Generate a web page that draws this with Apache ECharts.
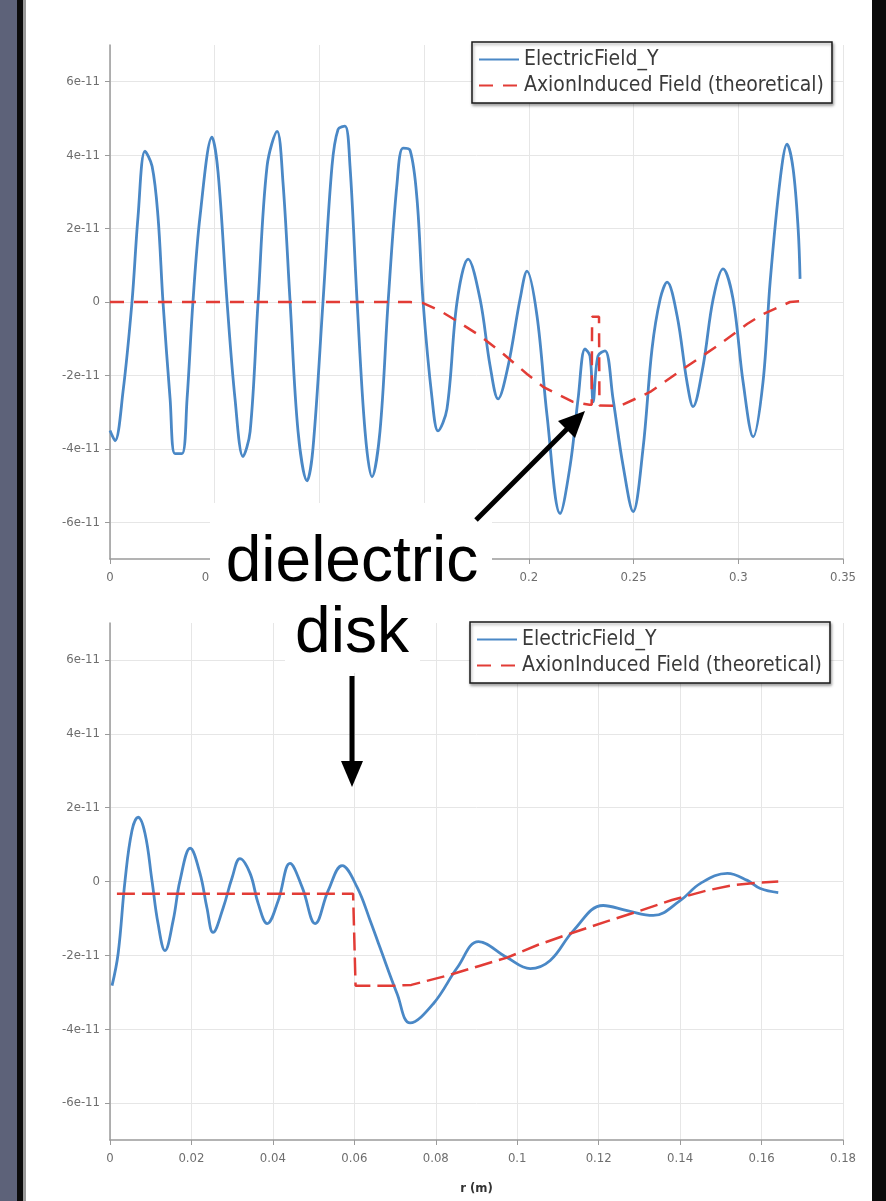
<!DOCTYPE html>
<html>
<head>
<meta charset="utf-8">
<script src="https://cdn.jsdelivr.net/npm/echarts@6/dist/echarts.min.js"></script>
<style>
html,body{margin:0;padding:0;background:#fff;}
#c{width:886px;height:1201px;}
</style>
</head>
<body>
<div id="c"></div>
<script>
// Field values are in units of 1e-11 (axis labels append "e-11")
const UNIT_SUFFIX = 'e-11';

// ---- Top chart: ElectricField_Y vs r ----
const topR = [
  0, 0.0024, 0.0062, 0.0105, 0.0134, 0.0167, 0.0201, 0.0229, 0.0253, 0.0287,
  0.0310, 0.0344, 0.0368, 0.0396, 0.0430, 0.0487, 0.0516, 0.0559, 0.0597, 0.0635,
  0.0669, 0.0707, 0.0750, 0.0798, 0.0826, 0.0860, 0.0898, 0.0941, 0.0969, 0.1017,
  0.1060, 0.1089, 0.1122, 0.1146, 0.1180, 0.1218, 0.1251, 0.1289, 0.1328, 0.1371,
  0.1399, 0.1433, 0.1466, 0.1495, 0.1538, 0.1566, 0.1609, 0.1657, 0.1710, 0.1767,
  0.1815, 0.1853, 0.1901, 0.1958, 0.1991, 0.2039, 0.2087, 0.2149, 0.2197, 0.2235,
  0.2268, 0.2292, 0.2307, 0.2330, 0.2364, 0.2402, 0.2450, 0.2498, 0.2545, 0.2588,
  0.2627, 0.2660, 0.2708, 0.2755, 0.2784, 0.2832, 0.2880, 0.2927, 0.2975, 0.3023,
  0.3071, 0.3118, 0.3152, 0.3200, 0.3233, 0.3262, 0.3286, 0.3295
];
const topField = [
  -3.50, -3.78, -2.45, 0.00, 2.34, 4.11, 3.70, 2.34, 0.00, -2.64,
  -4.13, -4.13, -2.64, 0.00, 2.34, 4.49, 3.53, 0.00, -2.64, -4.21,
  -3.53, 0.00, 3.70, 4.65, 3.26, 0.00, -3.53, -4.87, -4.00, 0.00,
  3.70, 4.70, 4.79, 3.70, 0.00, -3.53, -4.76, -3.53, 0.00, 3.26,
  4.19, 4.13, 2.80, 0.00, -2.64, -3.51, -2.91, 0.00, 1.17, 0.08,
  -1.74, -2.64, -1.74, 0.08, 0.84, -0.38, -3.10, -5.76, -4.46, -2.64,
  -1.28, -1.47, -2.72, -1.47, -1.33, -2.64, -4.46, -5.71, -4.00, -1.28,
  0.08, 0.54, -0.38, -2.18, -2.85, -1.74, 0.08, 0.90, 0.08, -2.18,
  -3.67, -2.18, 0.54, 3.34, 4.30, 3.62, 1.98, 0.63
];
const topTheoryR = [
  0, 0.1433, 0.1495, 0.1576, 0.1657, 0.1767, 0.1877, 0.1991, 0.2068, 0.2211,
  0.2290, 0.2300, 0.2302, 0.2335, 0.2337, 0.2436, 0.2579, 0.2737, 0.2899, 0.3042,
  0.3118, 0.3247, 0.3295
];
const topTheory = [
  0, 0, -0.03, -0.24, -0.52, -0.92, -1.41, -1.96, -2.31, -2.72,
  -2.80, -2.80, -0.40, -0.40, -2.82, -2.83, -2.45, -1.82, -1.20, -0.60,
  -0.33, 0, 0.02
];

// ---- Bottom chart ----
const botR = [
  0.0005, 0.0020, 0.0037, 0.0054, 0.0069, 0.0086, 0.0103, 0.0118, 0.0135, 0.0155,
  0.0172, 0.0197, 0.0221, 0.0238, 0.0253, 0.0278, 0.0300, 0.0319, 0.0344, 0.0364,
  0.0386, 0.0413, 0.0442, 0.0472, 0.0504, 0.0536, 0.0570, 0.0607, 0.0639, 0.0663,
  0.0705, 0.0737, 0.0794, 0.0853, 0.0905, 0.0975, 0.1032, 0.1081, 0.1138, 0.1211,
  0.1270, 0.1334, 0.1400, 0.1450, 0.1516, 0.1565, 0.1597, 0.1641
];
const botField = [
  -2.82, -1.95, 0.03, 1.38, 1.74, 1.30, 0.03, -1.14, -1.87, -1.06,
  0.03, 0.90, 0.22, -0.71, -1.38, -0.71, 0.11, 0.62, 0.22, -0.60,
  -1.14, -0.52, 0.49, -0.16, -1.14, -0.24, 0.43, -0.16, -1.06, -1.79,
  -3.04, -3.83, -3.31, -2.33, -1.63, -2.06, -2.36, -2.14, -1.33, -0.65,
  -0.79, -0.92, -0.52, -0.05, 0.22, 0.03, -0.19, -0.30
];
const botTheoryR = [
  0.0017, 0.0597, 0.0603, 0.0700, 0.0740, 0.0828, 0.0909, 0.0975, 0.1050, 0.1138,
  0.1220, 0.1302, 0.1380, 0.1467, 0.1530, 0.1590, 0.1641
];
const botTheory = [
  -0.33, -0.33, -2.82, -2.82, -2.80, -2.55, -2.28, -2.06, -1.72, -1.38,
  -1.08, -0.79, -0.50, -0.24, -0.10, -0.03, 0
];

const yTickValues = [-6, -4, -2, 0, 2, 4, 6];
const seriesNames = ['ElectricField_Y', 'AxionInduced Field (theoretical)'];
const annotationWords = ['dielectric', 'disk'];

const zip = (xs, ys) => xs.map((x, i) => [x, ys[i]]);
const FONT = '"Liberation Sans Narrow", "DejaVu Sans Condensed", "Liberation Sans", sans-serif';
const BLUE = '#4a88c6';
const RED = '#e23c36';

function yAxis(gi) {
  return {
    type: 'value', gridIndex: gi, min: -7, max: 7, splitNumber: 7,
    axisLine: {show: true, lineStyle: {color: '#9a9a9a', width: 1.5}},
    axisTick: {show: true, length: 5, lineStyle: {color: '#9a9a9a'}, customValues: yTickValues},
    axisLabel: {
      customValues: yTickValues,
      color: '#6e6e6e', fontSize: 13, fontFamily: FONT, margin: 10,
      formatter: v => (v === 0 ? '0' : v + UNIT_SUFFIX)
    },
    splitLine: {show: true, lineStyle: {color: ['#e6e6e6','#e6e6e6','#e6e6e6','#e6e6e6','#e6e6e6','#e6e6e6','#e6e6e6','#e6e6e6','rgba(0,0,0,0)'], width: 1}}
  };
}
function xAxis(gi, max, interval, name) {
  return {
    type: 'value', gridIndex: gi, min: 0, max: max, interval: interval,
    name: name, nameLocation: 'middle', nameGap: 42,
    nameTextStyle: {color: '#333', fontSize: 13, fontFamily: FONT, fontWeight: 'bold'},
    axisLine: {show: true, onZero: false, lineStyle: {color: '#9a9a9a', width: 1.5}},
    axisTick: {show: true, length: 5, lineStyle: {color: '#9a9a9a'}},
    axisLabel: {color: '#6e6e6e', fontSize: 13, fontFamily: FONT, margin: 12},
    splitLine: {show: true, lineStyle: {color: '#e6e6e6', width: 1}}
  };
}
function legend(left, top) {
  return {
    left: left, top: top, orient: 'vertical', data: seriesNames,
    backgroundColor: '#fff', borderColor: '#1a1a1a', borderWidth: 1.5,
    padding: [7, 8, 7, 6], itemGap: 5, itemWidth: 40, itemHeight: 14,
    itemStyle: {opacity: 0},
    textStyle: {fontSize: 21, color: '#3a3a3a', fontFamily: FONT},
    shadowColor: 'rgba(0,0,0,0.35)', shadowBlur: 3, shadowOffsetX: 1, shadowOffsetY: 2
  };
}

const chart = echarts.init(document.getElementById('c'), null, {renderer: 'canvas'});
chart.setOption({
  backgroundColor: '#fff',
  animation: false,
  grid: [
    {left: 110, right: 43, top: 45, height: 514},
    {left: 110, right: 43, top: 623, height: 517}
  ],
  xAxis: [xAxis(0, 0.35, 0.05, ''), xAxis(1, 0.18, 0.02, 'r (m)')],
  yAxis: [yAxis(0), yAxis(1)],
  legend: [legend(472, 42), legend(470, 622)],
  series: [
    {name: seriesNames[0], type: 'line', xAxisIndex: 0, yAxisIndex: 0, data: zip(topR, topField),
     symbol: 'none', smooth: 0.35, lineStyle: {color: BLUE, width: 2.8}, itemStyle: {color: BLUE}},
    {name: seriesNames[1], type: 'line', xAxisIndex: 0, yAxisIndex: 0, data: zip(topTheoryR, topTheory),
     symbol: 'none', lineStyle: {color: RED, width: 2.5, type: [14, 10]}, itemStyle: {color: RED}},
    {name: seriesNames[0], type: 'line', xAxisIndex: 1, yAxisIndex: 1, data: zip(botR, botField),
     symbol: 'none', smooth: 0.4, lineStyle: {color: BLUE, width: 2.8}, itemStyle: {color: BLUE}},
    {name: seriesNames[1], type: 'line', xAxisIndex: 1, yAxisIndex: 1, data: zip(botTheoryR, botTheory),
     symbol: 'none', lineStyle: {color: RED, width: 2.5, type: [18, 7]}, itemStyle: {color: RED}}
  ],
  graphic: [
    {type: 'rect', z: 200, shape: {x: 0, y: 0, width: 17, height: 1201}, style: {fill: '#5d6279'}},
    {type: 'rect', z: 200, shape: {x: 17, y: 0, width: 6, height: 1201}, style: {fill: '#0b0b0b'}},
    {type: 'rect', z: 200, shape: {x: 23, y: 0, width: 3, height: 1201}, style: {fill: '#9a9a9a'}},
    {type: 'rect', z: 200, shape: {x: 872, y: 0, width: 14, height: 1201}, style: {fill: '#0b0b0b'}},
    {type: 'rect', z: 100, shape: {x: 210, y: 503, width: 282, height: 100}, style: {fill: '#fff'}},
    {type: 'rect', z: 100, shape: {x: 285, y: 603, width: 135, height: 70}, style: {fill: '#fff'}},
    {type: 'text', z: 101, x: 352, y: 563, style: {text: annotationWords[0], fill: '#000',
      font: '64px "Liberation Sans", Arial, sans-serif', align: 'center', verticalAlign: 'middle'}},
    {type: 'text', z: 101, x: 352, y: 634, style: {text: annotationWords[1], fill: '#000',
      font: '64px "Liberation Sans", Arial, sans-serif', align: 'center', verticalAlign: 'middle'}},
    {type: 'line', z: 102, shape: {x1: 476, y1: 520, x2: 569, y2: 427}, style: {stroke: '#000', lineWidth: 5}},
    {type: 'polygon', z: 102, shape: {points: [[585, 411], [575, 438], [558, 421]]}, style: {fill: '#000'}},
    {type: 'line', z: 102, shape: {x1: 352, y1: 676, x2: 352, y2: 764}, style: {stroke: '#000', lineWidth: 5}},
    {type: 'polygon', z: 102, shape: {points: [[352, 787], [341, 761], [363, 761]]}, style: {fill: '#000'}}
  ]
});
</script>
</body>
</html>
